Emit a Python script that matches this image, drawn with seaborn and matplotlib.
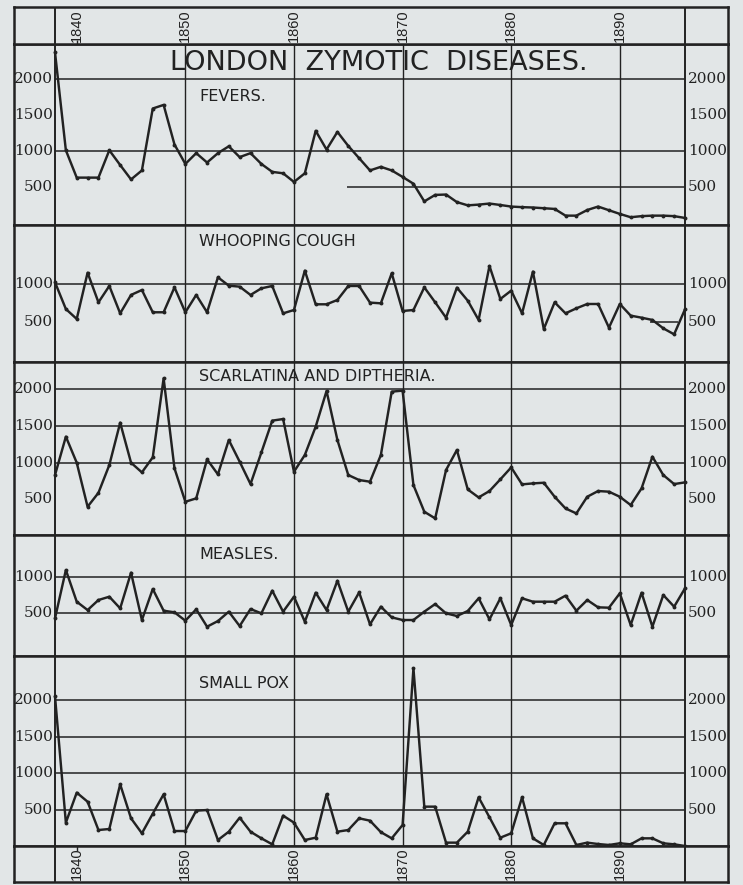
import matplotlib
matplotlib.use("Agg")
import matplotlib.pyplot as plt
import seaborn as sns
import pandas as pd

# ---------------- data (deaths per year) ----------------
years = list(range(1838, 1897))

fevers = [2370, 1010, 630, 630, 630, 1010, 805, 605, 730, 1590,
          1640, 1090, 820, 970, 840, 970, 1065, 915, 970, 820,
          710, 690, 570, 690, 1280, 1020, 1265, 1070, 900, 730,
          780, 730, 640, 545, 300, 390, 395, 290, 245, 255,
          270, 250, 228, 220, 215, 205, 195, 102, 102, 180,
          228, 177, 126, 80, 95, 102, 102, 95, 70]

whooping_cough = [1026, 675, 544, 1153, 763, 978, 618, 860, 925, 632,
                  632, 960, 632, 860, 632, 1092, 982, 969, 860, 947,
                  978, 618, 662, 1180, 737, 737, 794, 978, 978, 759,
                  750, 1145, 649, 662, 960, 763, 561, 956, 785, 531,
                  1241, 807, 917, 618, 1167, 412, 763, 618, 684, 741,
                  741, 430, 741, 588, 561, 531, 421, 342, 671]

scarlatina_diptheria = [832, 1355, 1000, 400, 590, 968, 1545, 1000, 868, 1073,
                        2150, 923, 468, 514, 1045, 841, 1309, 1014, 709, 1140,
                        1573, 1595, 877, 1105, 1491, 1977, 1309, 832, 764, 741,
                        1105, 1968, 1982, 695, 332, 241, 900, 1173, 636, 527,
                        614, 773, 936, 705, 718, 727, 536, 377, 309, 536,
                        614, 605, 536, 423, 650, 1082, 832, 709, 732]

measles = [432, 1091, 659, 545, 682, 727, 568, 1055, 409, 832,
           536, 514, 400, 555, 318, 395, 523, 327, 559, 500,
           809, 523, 727, 386, 782, 545, 945, 523, 786, 350,
           591, 445, 409, 409, 523, 627, 500, 464, 532, 705,
           418, 705, 341, 705, 659, 659, 659, 741, 536, 682,
           582, 577, 773, 341, 782, 318, 750, 591, 841]

small_pox = [2050, 320, 731, 607, 219, 233, 845, 379, 174, 443,
             708, 205, 205, 484, 493, 82, 196, 388, 196, 105,
             23, 416, 320, 82, 114, 708, 196, 219, 379, 347,
             190, 105, 288, 2434, 539, 539, 46, 46, 196, 667,
             393, 114, 174, 667, 105, 14, 311, 311, 14, 46,
             27, 14, 37, 23, 105, 105, 37, 23, 0]

panel_names = ["FEVERS.", "WHOOPING COUGH", "SCARLATINA AND DIPTHERIA.",
               "MEASLES.", "SMALL POX"]
year_labels = [1840, 1850, 1860, 1870, 1880, 1890]
grid_years = [1850, 1860, 1870, 1880, 1890]
title = "LONDON  ZYMOTIC  DISEASES."

# ---------------- styling / layout ----------------
sns.set_style("white")
plt.rcParams['font.family'] = ['Liberation Sans', 'DejaVu Sans']

W, H = 743, 885
paper = '#e2e6e7'
ink = '#222222'
X0, X1 = 14, 728
XLIM = (1834.225, 1899.96)
FIRST, LAST = 1838, 1896

fig = plt.figure(figsize=(W / 100, H / 100), dpi=100)
fig.patch.set_facecolor(paper)


def rect(top, bottom):
    return [X0 / W, 1 - bottom / H, (X1 - X0) / W, (bottom - top) / H]


series = [fevers, whooping_cough, scarlatina_diptheria, measles, small_pox]
specs = [
    dict(top=44, bottom=225, ylim=(-28, 2486), grid=[1000, 2000],
         labels=[500, 1000, 1500, 2000], name_y=1750),
    dict(top=225, bottom=362, ylim=(-22, 1780), grid=[1000],
         labels=[500, 1000], name_y=1560),
    dict(top=362, bottom=535, ylim=(15, 2372), grid=[1000, 1500, 2000],
         labels=[500, 1000, 1500, 2000], name_y=2180),
    dict(top=535, bottom=656, ylim=(-82, 1569), grid=[500, 1000],
         labels=[500, 1000], name_y=1300),
    dict(top=656, bottom=846, ylim=(0, 2603), grid=[500, 1000, 1500, 2000],
         labels=[500, 1000, 1500, 2000], name_y=2230),
]
# partial grid segments (value, from-year, to-year)
partial = {0: [(500, 1864.9, LAST)], 1: [(500, 1892.8, 1895.4)]}


def style_axes(ax):
    ax.set_facecolor(paper)
    ax.set_xlim(*XLIM)
    ax.set_xticks([])
    ax.set_yticks([])
    ax.set_xlabel("")
    ax.set_ylabel("")
    for sp in ax.spines.values():
        sp.set_visible(True)
        sp.set_color(ink)
        sp.set_linewidth(1.8)
    ax.axvline(FIRST, color=ink, lw=1.4, zorder=1)
    ax.axvline(LAST, color=ink, lw=1.4, zorder=1)


for i, (vals, name, sp) in enumerate(zip(series, panel_names, specs)):
    ax = fig.add_axes(rect(sp['top'], sp['bottom']))
    style_axes(ax)
    ax.set_ylim(*sp['ylim'])
    for g in sp['grid']:
        ax.hlines(g, FIRST, LAST, color=ink, lw=1.1, zorder=1)
    for (g, a, b) in partial.get(i, []):
        ax.hlines(g, a, b, color=ink, lw=1.1, zorder=1)
    for gy in grid_years:
        ax.axvline(gy, color=ink, lw=1.0, zorder=1)
    df = pd.DataFrame({'year': years, 'deaths': vals})
    sns.lineplot(data=df, x='year', y='deaths', ax=ax, color=ink, lw=1.75,
                 marker='o', markersize=2.8, markeredgewidth=0, zorder=3,
                 legend=False)
    ax.set_xlabel("")
    ax.set_ylabel("")
    ax.set_xticks([])
    ax.set_yticks([])
    ax.set_xlim(*XLIM)
    ax.set_ylim(*sp['ylim'])
    for lab in sp['labels']:
        ax.text(FIRST - 0.2, lab, str(lab), ha='right', va='center',
                fontsize=11, family='DejaVu Serif', color=ink)
        ax.text(LAST + 0.3, lab, str(lab), ha='left', va='center',
                fontsize=11, family='DejaVu Serif', color=ink)
    ax.text(1851.3, sp['name_y'], name, ha='left', va='center',
            fontsize=11.5, family='DejaVu Sans', color=ink)
    if i == 0:
        ax.text(1867.8, (223 - 63) / 0.072, title, ha='center',
                va='center', fontsize=19.5, family='DejaVu Sans', color=ink)

# year strips
for top, bottom, where in [(7, 44, 'top'), (846, 882, 'bottom')]:
    ax = fig.add_axes(rect(top, bottom))
    style_axes(ax)
    ax.set_ylim(0, 1)
    for yr in year_labels:
        ax.text(yr, 0.5, str(yr), rotation=90, ha='center', va='center',
                fontsize=10.5, color=ink)
    if where == 'top':
        ax.vlines(year_labels[0], 0.0, 0.12, color=ink, lw=1.0)
    else:
        ax.vlines(year_labels[0], 0.86, 1.0, color=ink, lw=1.0)

fig.savefig("out.png", dpi=100, facecolor=paper)
